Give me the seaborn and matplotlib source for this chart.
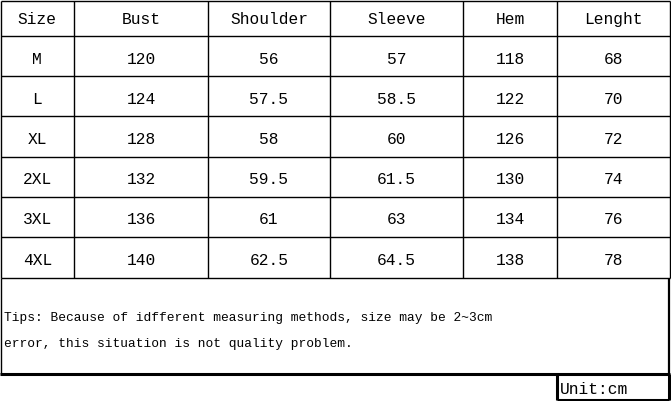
import matplotlib
matplotlib.use("Agg")
import matplotlib.pyplot as plt
import seaborn as sns

# Table contents
headers = ["Size", "Bust", "Shoulder", "Sleeve", "Hem", "Lenght"]
sizes = ["M", "L", "XL", "2XL", "3XL", "4XL"]
bust = ["120", "124", "128", "132", "136", "140"]
shoulder = ["56", "57.5", "58", "59.5", "61", "62.5"]
sleeve = ["57", "58.5", "60", "61.5", "63", "64.5"]
hem = ["118", "122", "126", "130", "134", "138"]
length = ["68", "70", "72", "74", "76", "78"]
tips = ["Tips: Because of idfferent measuring methods, size may be 2~3cm",
        "error, this situation is not quality problem."]
unit = "Unit:cm"

# Layout (pixel grid of the 671x401 image)
col_edges = [0.5, 74, 208, 330, 463, 557, 669.5]
row_edges = [0.5, 36, 76, 116, 156.5, 196.5, 237, 278]
tips_bottom = 374
unit_box = (557, 668.5, 374, 400)

sns.set_theme(style="white")
plt.rcParams['font.family'] = ['Liberation Mono', 'DejaVu Sans Mono']

fig = plt.figure(figsize=(6.71, 4.01), dpi=100)
ax = fig.add_axes([0, 0, 1, 1])
ax.set_xlim(0, 671)
ax.set_ylim(401, 0)
ax.axis("off")

thin = 1.0
thick = 2.2

# grid
for y in row_edges:
    ax.hlines(y, col_edges[0], col_edges[-1], color="black", lw=thin)
for x in col_edges:
    ax.vlines(x, row_edges[0], row_edges[-1], color="black", lw=thin)

# tips box
ax.vlines(col_edges[0], row_edges[-1], tips_bottom, color="black", lw=thin)
ax.vlines(col_edges[-1] - 0.5, row_edges[-1], tips_bottom, color="black", lw=1.6)
ax.hlines(tips_bottom, 0, col_edges[-1], color="black", lw=thick)

# unit box
x0, x1, y0, y1 = unit_box
ax.vlines([x0, x1], y0, y1, color="black", lw=thick)
ax.hlines(y1, x0, x1, color="black", lw=thick)

columns = [sizes, bust, shoulder, sleeve, hem, length]
cell_fs = 11.7
for j, h in enumerate(headers):
    cx = (col_edges[j] + col_edges[j + 1]) / 2
    cy = (row_edges[0] + row_edges[1]) / 2
    ax.text(cx, cy, h, ha="center", va="center_baseline", fontsize=cell_fs, color="black")
    for i, v in enumerate(columns[j]):
        cy = (row_edges[i + 1] + row_edges[i + 2]) / 2 + 1.5
        ax.text(cx, cy, v, ha="center", va="center_baseline", fontsize=cell_fs, color="black")

ax.text(4, 317, tips[0], ha="left", va="center_baseline", fontsize=9.3, color="black")
ax.text(4, 342, tips[1], ha="left", va="center_baseline", fontsize=9.3, color="black")
ax.text(x0 + 3, 388, unit, ha="left", va="center_baseline", fontsize=cell_fs, color="black")

fig.savefig("out.png", dpi=100, facecolor="white")
